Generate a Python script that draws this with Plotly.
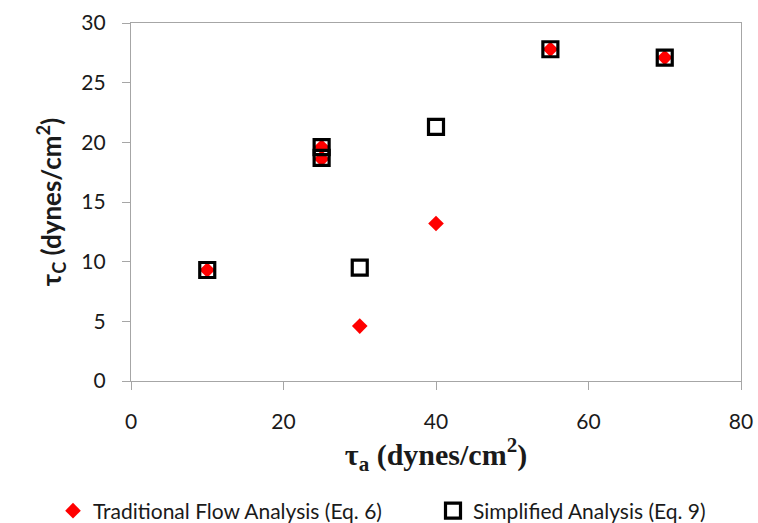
import plotly.graph_objects as go

# Applied shear stress (x) and critical shear stress (y), dynes/cm2
tau_a_traditional = [10, 25, 25, 30, 40, 55, 70]
tau_c_traditional = [9.3, 19.6, 18.6, 4.6, 13.2, 27.8, 27.1]

tau_a_simplified = [10, 25, 25, 30, 40, 55, 70]
tau_c_simplified = [9.3, 19.6, 18.7, 9.5, 21.3, 27.8, 27.1]

x_ticks = [0, 20, 40, 60, 80]
y_ticks = [0, 5, 10, 15, 20, 25, 30]

W, H = 758, 523
label_font = "Lato, Noto Sans, sans-serif"
text_color = "#1a1a1a"

fig = go.Figure()
fig.add_trace(go.Scatter(
    x=tau_a_traditional, y=tau_c_traditional, mode="markers",
    name="Traditional Flow Analysis (Eq. 6)", legend="legend",
    marker=dict(symbol="diamond", size=12, color="#ff0000", line=dict(width=0)),
))
fig.add_trace(go.Scatter(
    x=tau_a_simplified, y=tau_c_simplified, mode="markers",
    name="Simplified Analysis (Eq. 9)", legend="legend2",
    marker=dict(symbol="square-open", size=15, color="#000000", line=dict(width=3.2)),
))

axis_common = dict(
    showgrid=False, zeroline=False, showline=True, linecolor="#a6a6a6", linewidth=1.2,
    mirror=True, ticks="outside", ticklen=8, tickcolor="#a6a6a6",
    tickfont=dict(family=label_font, size=21, color=text_color),
    automargin=False,
)

legend_common = dict(
    orientation="h", xref="container", yref="container",
    xanchor="left", yanchor="middle", y=(H - 511) / H,
    font=dict(family=label_font, size=21, color=text_color),
    itemwidth=30, bgcolor="rgba(0,0,0,0)",
)

fig.update_layout(
    width=W, height=H,
    margin=dict(l=131, r=17, t=23, b=142, autoexpand=False),
    paper_bgcolor="white", plot_bgcolor="white",
    xaxis=dict(
        range=[0, 80], tickvals=x_ticks, ticklabelstandoff=14,
        title=dict(text="<b>τ<sub>a</sub> (dynes/cm<sup>2</sup>)</b>",
                   font=dict(family="Liberation Serif, serif", size=30, color=text_color),
                   standoff=9),
        **axis_common,
    ),
    yaxis=dict(
        range=[0, 30], tickvals=y_ticks, ticklabelstandoff=12,
        title=dict(text="<b>τ<sub>C</sub> (dynes/cm<sup>2</sup>)</b>",
                   font=dict(family=label_font, size=26, color=text_color),
                   standoff=12),
        **axis_common,
    ),
    legend=dict(x=(93 - 40) / W, **legend_common),
    legend2=dict(x=(473 - 40) / W, **legend_common),
    showlegend=True,
)

fig.write_html("out.html")
